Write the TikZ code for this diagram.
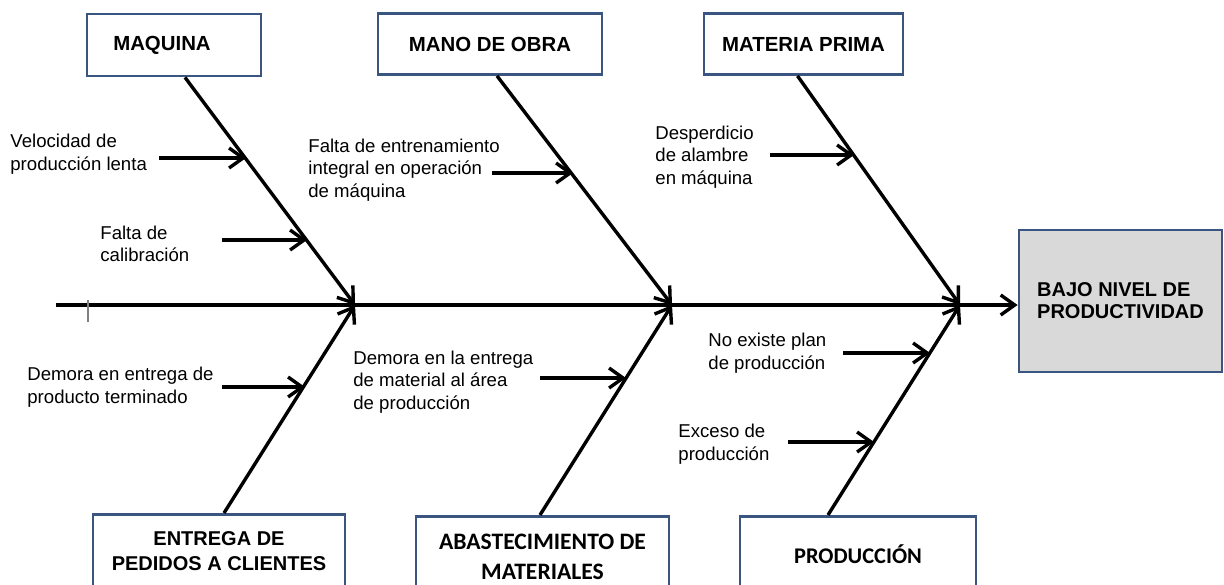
\documentclass[tikz,border=0pt]{standalone}
\usepackage{fontspec}
\setmainfont{Liberation Sans}
\newfontfamily\calfont{Carlito}
\usetikzlibrary{arrows.meta}
\definecolor{borde}{RGB}{58,86,128}
\definecolor{grisbox}{RGB}{217,217,217}
\tikzset{
  causa/.style={draw=borde,line width=1.4pt,fill=white,inner sep=0pt,align=center,
    font=\bfseries\fontsize{10.2}{12}\selectfont},
  texto/.style={anchor=west,align=left,inner sep=0pt,font=\fontsize{9.3}{11.2}\selectfont},
  espina/.style={line width=1.7pt,-{Straight Barb[length=7pt,width=10pt]}},
}

\begin{document}
\begin{tikzpicture}[x=0.5pt,y=-0.5pt]
\useasboundingbox (0,0) rectangle (1224,584);

% categorias de arriba
\node[causa,minimum width=87pt,minimum height=31pt] (maq) at (174,45) {MAQUINA\hspace*{12pt}};
\node[causa,minimum width=112pt,minimum height=30.5pt] (mano) at (490,44) {MANO DE OBRA};
\node[causa,minimum width=99.5pt,minimum height=30.5pt] (mat) at (803.5,44) {MATERIA PRIMA};

% categorias de abajo
\node[causa,anchor=north,minimum width=126pt,minimum height=37pt,
  font=\bfseries\fontsize{10}{12.5}\selectfont] (ent) at (219,513) {ENTREGA DE\\PEDIDOS A CLIENTES};
\node[causa,anchor=north,minimum width=126.5pt,minimum height=40pt,
  font=\calfont\bfseries\fontsize{11.8}{15}\selectfont] (abas) at (542.5,515) {ABASTECIMIENTO DE\\MATERIALES};
\node[causa,anchor=north,minimum width=118pt,minimum height=38pt,
  font=\calfont\bfseries\fontsize{11.2}{14}\selectfont] (prod) at (858,515) {PRODUCCIÓN};

% efecto
\node[causa,fill=grisbox,align=left,minimum width=101.5pt,minimum height=71pt,
  font=\bfseries\fontsize{10}{11}\selectfont] (efecto) at (1120.5,301) {BAJO NIVEL DE\\PRODUCTIVIDAD};

% espina central
\coordinate (ini) at (56,305);
\coordinate (e1) at (355,305);
\coordinate (e2) at (672,305);
\coordinate (e3) at (960,305);
\draw[espina] (ini) -- (ini -| efecto.west);
\draw[gray,line width=0.6pt] (88,300) -- (88,322);

\draw[espina] ([xshift=5.5pt]maq.south) -- (e1);
\draw[espina] ([xshift=2.5pt]ent.north) -- (e1);
\draw[espina] ([xshift=3.5pt]mano.south) -- (e2);
\draw[espina] ([xshift=-1.25pt]abas.north) -- (e2);
\draw[espina] ([xshift=-3pt]mat.south) -- (e3);
\draw[espina] ([xshift=-15pt]prod.north) -- (e3);

% causas
\node[texto] (velo) at (10,154) {Velocidad de\\producción lenta};
\node[texto] (cali) at (100,244) {Falta de\\calibración};
\node[texto] (dem1) at (27,387) {Demora en entrega de\\producto terminado};
\node[texto] (entr) at (308,170) {Falta de entrenamiento\\integral en operación\\de máquina};
\node[texto] (desp) at (655,157) {Desperdicio\\de alambre\\en máquina};
\node[texto] (dem2) at (353,382) {Demora en la entrega\\de material al área\\de producción};
\node[texto] (plan) at (708,353) {No existe plan\\de producción};
\node[texto] (exce) at (678,444) {Exceso de\\producción};

\coordinate (a1) at (159,158); \coordinate (b1) at (246,158);
\coordinate (a2) at (222,240); \coordinate (b2) at (307,240);
\coordinate (a3) at (222,387); \coordinate (b3) at (305,387);
\coordinate (a4) at (492,173); \coordinate (b4) at (573,173);
\coordinate (a5) at (770,155); \coordinate (b5) at (854,155);
\coordinate (a6) at (540,378); \coordinate (b6) at (626,378);
\coordinate (a7) at (843,353); \coordinate (b7) at (930,353);
\coordinate (a8) at (788,442); \coordinate (b8) at (874,442);

\draw[espina] (a1) -- (b1);
\draw[espina] (a2) -- (b2);
\draw[espina] (a3) -- (b3);
\draw[espina] (a4) -- (b4);
\draw[espina] (a5) -- (b5);
\draw[espina] (a6) -- (b6);
\draw[espina] (a7) -- (b7);
\draw[espina] (a8) -- (b8);
\end{tikzpicture}
\end{document}
